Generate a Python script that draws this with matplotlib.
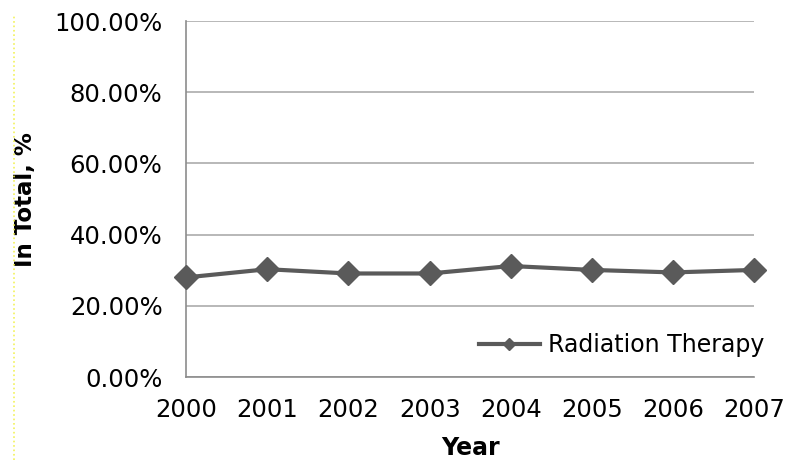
import matplotlib
matplotlib.use("Agg")
import matplotlib.pyplot as plt
from matplotlib.lines import Line2D
from matplotlib.ticker import FuncFormatter

# values
years = ["2000", "2001", "2002", "2003", "2004", "2005", "2006", "2007"]
radiation = [28.0, 30.3, 29.1, 29.1, 31.2, 30.1, 29.4, 30.1]
series_name = "Radiation Therapy"
y_ticks = [0, 20, 40, 60, 80, 100]

# the scan is a bit stretched sideways, DejaVu's wider glyphs fit it best
plt.rcParams['font.family'] = ['DejaVu Sans']

fig = plt.figure(figsize=(7.99, 4.69), dpi=100)
ax = fig.add_axes([0.233, 0.196, 0.711, 0.759])

x = list(range(len(years)))
ax.plot(x, radiation, color='#5a5a5a', linewidth=3, marker='D',
        markersize=12.5, markeredgecolor='#5a5a5a', label=series_name,
        clip_on=False, zorder=3)

ax.set_xlim(0, len(years) - 1)
ax.set_ylim(0, 100)
ax.set_xticks(x)
ax.set_xticklabels(years)
ax.set_yticks(y_ticks)
ax.yaxis.set_major_formatter(FuncFormatter(lambda v, p: f"{v:.2f}%"))
ax.tick_params(axis='both', length=0, labelsize=17.5, colors='black')
ax.tick_params(axis='y', pad=17)
ax.tick_params(axis='x', pad=15)

ax.grid(axis='y', color='#ababab', linewidth=1.2)
ax.set_axisbelow(True)
for side in ['top', 'right']:
    ax.spines[side].set_visible(False)
for side in ['left', 'bottom']:
    ax.spines[side].set_color('#8c8c8c')
    ax.spines[side].set_linewidth(1.2)

ax.set_xlabel("Year", fontsize=17, fontweight='bold')
ax.xaxis.set_label_coords(0.5, -0.165)
ax.set_ylabel("In Total, %", fontsize=16.5, fontweight='bold')
ax.yaxis.set_label_coords(-0.262, 0.5)

leg = ax.legend(loc='lower right', frameon=False, fontsize=17,
                markerscale=0.45, handlelength=2.6, handletextpad=0.35,
                borderaxespad=0, bbox_to_anchor=(1.035, 0.03))

# faint dotted yellow line at the far left of the scan
fig.add_artist(Line2D([0.017, 0.017], [0.02, 0.97], transform=fig.transFigure,
                      color='#f2f25a', linestyle=':', linewidth=1.2))

fig.savefig("out.png", dpi=100)
